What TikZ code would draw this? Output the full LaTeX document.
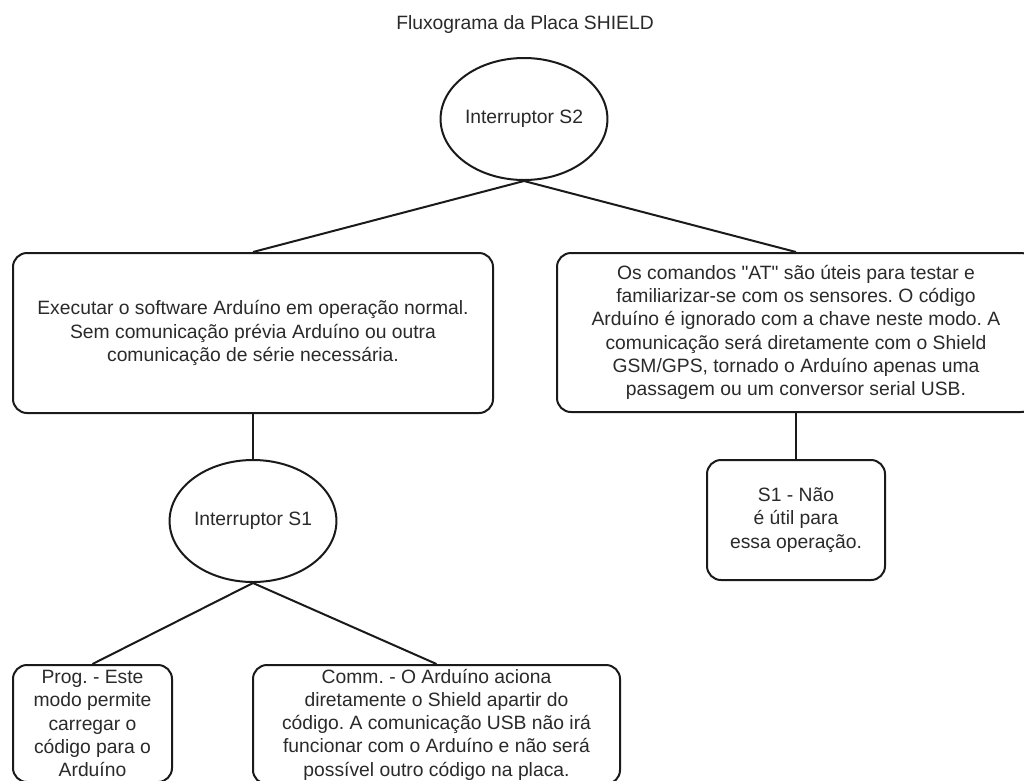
\documentclass[tikz,border=0pt]{standalone}
\usepackage{fontspec}
\setmainfont{Liberation Sans}
\usetikzlibrary{shapes.geometric}
\definecolor{txt}{HTML}{2A2A2A}
\definecolor{edge}{HTML}{1A1A1A}
\frenchspacing
\begin{document}
\begin{tikzpicture}[x=1pt,y=-1pt,
  every node/.style={font=\fontsize{19.3}{23.3}\selectfont, text=txt, inner sep=0pt},
  oval/.style={ellipse, draw=edge, line width=2pt, minimum width=162pt, minimum height=122pt},
  card/.style={rectangle, rounded corners=14pt, draw=edge, line width=2pt, align=center},
  link/.style={draw=edge, line width=2pt}]
\useasboundingbox (0,0) rectangle (1024,780);
\clip (0,0) rectangle (1024,780);
\fill[white] (0,0) rectangle (1024,780);

\node (title) at (525,25) {Fluxograma da Placa SHIELD};

\node[oval] (s2) at (524,119) {Interruptor S2};

\node[card, minimum width=480pt, minimum height=160pt] (a) at (253,333)
  {Executar o software Arduíno em operação normal.\\Sem comunicação prévia Arduíno ou outra\\comunicação de série necessária.};

\node[card, minimum width=478pt, minimum height=159pt] (b) at (796,332.5)
  {Os comandos \textquotedbl AT\textquotedbl{} são úteis para testar e\\familiarizar-se com os sensores. O código\\Arduíno é ignorado com a chave neste modo. A\\comunicação será diretamente com o Shield\\GSM/GPS, tornado o Arduíno apenas uma\\passagem ou um conversor serial USB.};

\node[oval] (s1) at (253,521) {Interruptor S1};

\node[card, minimum width=178pt, minimum height=120pt] (c) at (796,520)
  {S1 - Não\\é útil para\\essa operação.};

\node[card, minimum width=159pt, minimum height=117pt] (p) at (92.5,723.5)
  {Prog. - Este\\modo permite\\carregar o\\código para o\\Arduíno};

\node[card, minimum width=367pt, minimum height=119pt] (m) at (436.5,724.5)
  {Comm. - O Arduíno aciona\\diretamente o Shield apartir do\\código. A comunicação USB não irá\\funcionar com o Arduíno e não será\\possível outro código na placa.};

\draw[link] (s2.south) -- (a.north);
\draw[link] (s2.south) -- (b.north);
\draw[link] (a.south) -- (s1.north);
\draw[link] (b.south) -- (c.north);
\draw[link] (s1.south) -- (p.north);
\draw[link] (s1.south) -- (m.north);
\end{tikzpicture}
\end{document}
